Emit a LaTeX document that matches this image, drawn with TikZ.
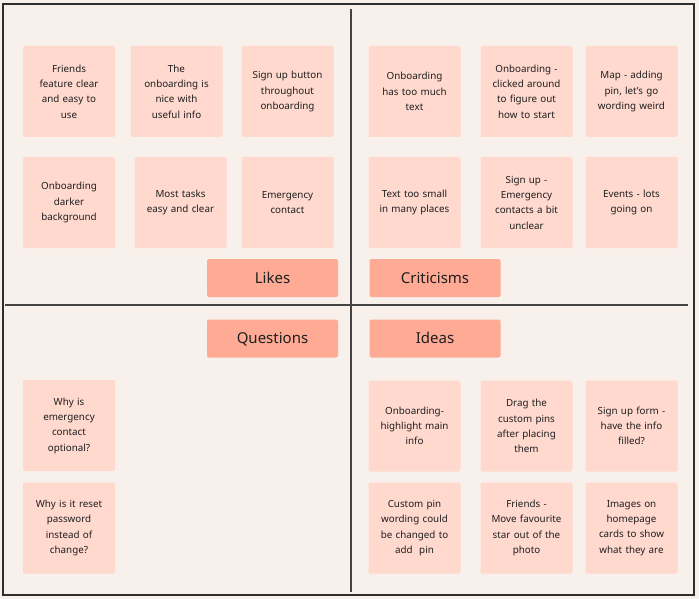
\documentclass[tikz,border=0pt]{standalone}
\usepackage{fontspec}
\setmainfont{Noto Sans}
\definecolor{boardbg}{HTML}{F7F0EB}
\definecolor{notepink}{HTML}{FFD8CE}
\definecolor{headsalmon}{HTML}{FFAA94}
\definecolor{inkgray}{HTML}{2E2E2E}
\definecolor{notetext}{HTML}{1F1F1F}
\begin{document}
\begin{tikzpicture}[
            x=1pt, y=-1pt,
        note/.style={rectangle,rounded corners=2pt,fill=notepink,minimum width=92pt,minimum height=91pt,
                     inner sep=0pt,text width=88pt,align=center,text=notetext,font=\fontsize{9.8}{15.3}\selectfont},
        head/.style={rectangle,rounded corners=2pt,fill=headsalmon,minimum width=131pt,minimum height=38pt,
                     inner sep=0pt,text height=10.7pt,text depth=0pt,text=notetext,font=\fontsize{15}{18}\selectfont}
                                ]
          \useasboundingbox[fill=boardbg] (0,0) rectangle (699,599);
          \draw[inkgray,line width=1.2pt] (3,4) rectangle (694,595);
          \draw[inkgray!90,line width=2pt] (351,9) -- (351,592);
          \draw[inkgray!90,line width=2pt] (5,305) -- (688,305);

          % likes
          \node[note] (l1) at (69,91.5) {Friends\\feature clear\\and easy to\\use};
          \node[note] (l2) at (176.5,91.5) {The\\onboarding is\\nice with\\useful info};
          \node[note] (l3) at (287.5,91.5) {Sign up button\\throughout\\onboarding};
          \node[note] (l4) at (69,202.5) {Onboarding\\darker\\background};
          \node[note] (l5) at (180.5,202.5) {Most tasks\\easy and clear};
          \node[note] (l6) at (287.5,202.5) {Emergency\\contact};
          \node[head] (likes) at (272.5,278) {Likes};

          % criticisms
          \node[note] (c1) at (414.5,91.5) {Onboarding\\has too much\\text};
          \node[note] (c2) at (526.5,91.5) {Onboarding -\\clicked around\\to figure out\\how to start};
          \node[note] (c3) at (631.5,91.5) {Map - adding\\pin, let's go\\wording weird};
          \node[note] (c4) at (414.5,202.5) {Text too small\\in many places};
          \node[note] (c5) at (526.5,202.5) {Sign up -\\Emergency\\contacts a bit\\unclear};
          \node[note] (c6) at (631.5,202.5) {Events - lots\\going on};
          \node[head] (criticisms) at (435,278) {Criticisms};

          % questions
          \node[head] (questions) at (272.5,338.5) {Questions};
          \node[note] (q1) at (69,425.5) {Why is\\emergency\\contact\\optional?};
          \node[note] (q2) at (69,528) {Why is it reset\\password\\instead of\\change?};

          % ideas
          \node[head] (ideas) at (435,338.5) {Ideas};
          \node[note] (i1) at (414.5,426) {Onboarding-\\highlight main\\info};
          \node[note] (i2) at (526.5,426) {Drag the\\custom pins\\after placing\\them};
          \node[note] (i3) at (631.5,426) {Sign up form -\\have the info\\filled?};
          \node[note] (i4) at (414.5,528) {Custom pin\\wording could\\be changed to\\add~~pin};
          \node[note] (i5) at (526.5,528) {Friends -\\Move favourite\\star out of the\\photo};
          \node[note] (i6) at (631.5,528) {Images on\\homepage\\cards to show\\what they are};
    \end{tikzpicture}
\end{document}
